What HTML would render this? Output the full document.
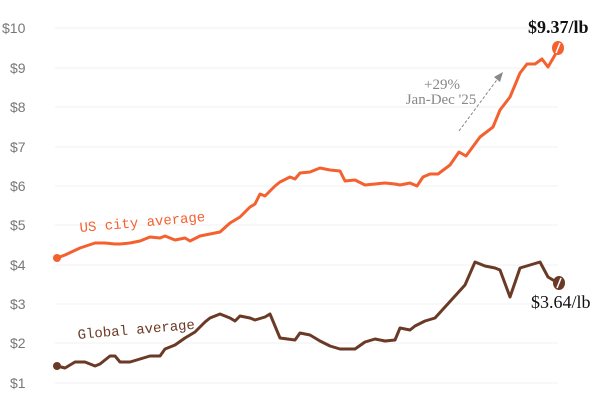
<!DOCTYPE html>
<html><head><style>body{margin:0;background:#fff}svg{display:block}</style></head><body>
<svg width="600" height="400" xmlns="http://www.w3.org/2000/svg">
<g stroke="#f0f0f0" stroke-width="1">
<line x1="55" x2="558" y1="28" y2="28"/><line x1="55" x2="558" y1="68" y2="68"/><line x1="55" x2="558" y1="107" y2="107"/><line x1="55" x2="558" y1="147" y2="147"/><line x1="55" x2="558" y1="186" y2="186"/><line x1="55" x2="558" y1="225" y2="225"/><line x1="55" x2="558" y1="265" y2="265"/><line x1="55" x2="558" y1="304" y2="304"/><line x1="55" x2="558" y1="343" y2="343"/><line x1="55" x2="558" y1="383" y2="383"/>
</g>
<g font-family="Liberation Sans, sans-serif" font-size="14" fill="#777">
<text x="2" y="33">$10</text><text x="10" y="73">$9</text><text x="10" y="112">$8</text><text x="10" y="152">$7</text><text x="10" y="191">$6</text><text x="10" y="230">$5</text><text x="10" y="270">$4</text><text x="10" y="309">$3</text><text x="10" y="348">$2</text><text x="10" y="388">$1</text>
</g>
<polyline fill="none" stroke="#f4612f" stroke-width="3" stroke-linejoin="round" points="57,258 65,255 80,248 95,243 105,243 115,244 120,244 130,243 140,241 150,237 160,238 165,236 175,240 185,238 190,241 200,236 210,234 220,232 230,223 240,217 250,207 255,204 260,194 265,196 275,186 280,182 290,177 295,179 300,173 310,172 320,168 330,170 340,171 345,181 355,180 365,185 375,184 385,183 395,184 400,185 410,183 417,186 423,177 430,174 438,174 450,165 459,152 466,156 480,137 493,127 500,110 510,97 520,73 527,64 535,64 542,59 548,67 555,55 558,48"/>
<circle cx="57" cy="258" r="4" fill="#f4612f"/>
<polyline fill="none" stroke="#6b3a26" stroke-width="3" stroke-linejoin="round" points="57,366 65,368 75,362 85,362 95,366 100,364 110,356 115,356 120,362 130,362 140,359 150,356 160,356 165,349 175,345 185,338 195,332 205,322 210,318 220,314 230,318 235,321 240,316 250,318 255,320 265,317 270,314 280,338 295,340 300,333 310,335 320,341 330,346 340,349 355,349 365,342 375,339 385,341 395,340 400,328 410,330 415,326 425,321 435,318 445,307 455,296 465,285 475,262 485,266 495,268 500,270 510,297 520,268 530,265 540,262 548,277 558,283"/>
<circle cx="57" cy="366" r="4" fill="#6b3a26"/>
<ellipse cx="558" cy="48" rx="6" ry="7" fill="#f4612f"/><line x1="556" y1="53" x2="560" y2="43" stroke="#fff" stroke-width="1.5"/>
<ellipse cx="559" cy="283" rx="6" ry="7" fill="#6b3a26"/><line x1="557" y1="288" x2="561" y2="278" stroke="#fff" stroke-width="1.5"/>
<text x="528" y="33" font-family="Liberation Serif, serif" font-weight="bold" font-size="18" fill="#111">$9.37/lb</text>
<text x="531" y="308" font-family="Liberation Serif, serif" font-size="18" fill="#111">$3.64/lb</text>
<g font-family="Liberation Serif, serif" font-size="15" fill="#888" text-anchor="middle"><text x="442" y="89">+29%</text><text x="441" y="104">Jan-Dec '25</text></g>
<line x1="459" y1="131" x2="499" y2="77" stroke="#888" stroke-width="1" stroke-dasharray="3,2"/>
<polygon points="503,72 494,77 500,82" fill="#888"/>
<text x="80" y="232" transform="rotate(-5 80 232)" font-family="Liberation Mono, monospace" font-size="14" fill="#f4612f">US city average</text>
<text x="78" y="339" transform="rotate(-5 78 339)" font-family="Liberation Mono, monospace" font-size="14" fill="#6b3a26">Global average</text>
</svg>
</body></html>
